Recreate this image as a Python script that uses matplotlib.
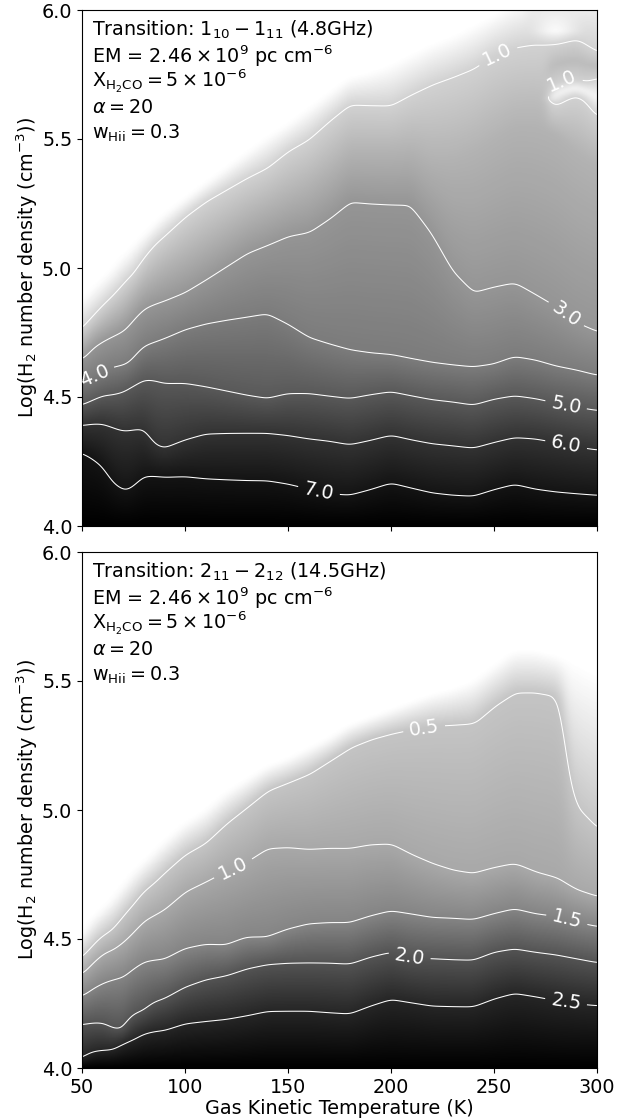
import numpy as np
import matplotlib
matplotlib.use("Agg")
import matplotlib.pyplot as plt
from matplotlib.colors import LinearSegmentedColormap, Normalize

T_GRID = [50,55,60,65,70,73,75,80,85,90,100,110,120,130,140,150,160,170,180,190,200,210,220,230,240,250,260,270,280,290,300]

# ---- top panel: density of each level along T_GRID
TOP_7 = [4.286,4.263,4.231,4.166,4.137,4.14,4.153,4.192,4.194,4.19,4.192,4.183,4.179,4.176,4.175,4.162,4.142,4.124,4.118,4.14,4.166,4.146,4.127,4.118,4.114,4.14,4.161,4.142,4.131,4.124,4.118]
TOP_6 = [4.39,4.396,4.396,4.382,4.368,4.37,4.373,4.376,4.315,4.299,4.332,4.356,4.359,4.36,4.36,4.351,4.338,4.329,4.315,4.332,4.352,4.334,4.319,4.311,4.302,4.324,4.343,4.338,4.324,4.307,4.295]
TOP_5 = [4.468,4.487,4.505,4.509,4.519,4.535,4.544,4.567,4.565,4.553,4.553,4.539,4.522,4.505,4.492,4.512,4.513,4.503,4.494,4.509,4.521,4.505,4.49,4.481,4.469,4.492,4.505,4.494,4.477,4.461,4.448]
TOP_4 = [4.561,4.578,4.6,4.615,4.623,4.632,4.652,4.697,4.712,4.727,4.762,4.784,4.798,4.81,4.823,4.781,4.729,4.703,4.68,4.668,4.661,4.645,4.631,4.622,4.615,4.626,4.655,4.642,4.619,4.604,4.584]
TOP_3 = [4.645,4.69,4.716,4.736,4.755,4.781,4.801,4.842,4.859,4.872,4.904,4.953,5.005,5.057,5.089,5.124,5.139,5.193,5.258,5.251,5.247,5.245,5.135,4.986,4.902,4.924,4.94,4.894,4.846,4.784,4.749]
TOP_2 = [4.70,4.75,4.78,4.81,4.84,4.87,4.89,4.94,4.97,5.0,5.05,5.1,5.15,5.2,5.24,5.28,5.32,5.38,5.45,5.45,5.45,5.46,5.42,5.42,5.45,5.5,5.55,5.55,5.52,5.45,5.4]
TOP_1 = [4.759,4.807,4.852,4.891,4.936,4.962,4.975,5.038,5.089,5.124,5.199,5.258,5.303,5.348,5.387,5.452,5.497,5.569,5.633,5.63,5.628,5.672,5.711,5.74,5.772,5.828,5.854,5.867,5.867,5.886,5.834]
TOP_0 = [4.88,4.92,4.96,5.0,5.05,5.07,5.09,5.13,5.17,5.21,5.27,5.33,5.39,5.45,5.51,5.56,5.62,5.68,5.74,5.76,5.79,5.83,5.87,5.9,5.94,5.98,6.03,6.06,6.08,6.1,6.12]

# island of low values near the upper right of the top panel
ISLAND_T = [276,278,280,285,290,295,300]
ISLAND_LOW = [5.65,5.635,5.63,5.655,5.67,5.65,5.59]
ISLAND_HIGH = [5.65,5.695,5.715,5.725,5.73,5.72,5.735]
SPOT_T = [266,272,276,280,284,288,294]
SPOT_V = [0.75,0.45,0.2,0.05,0.2,0.45,0.75]

# ---- bottom panel
BOT_25 = [4.035,4.061,4.067,4.069,4.093,4.104,4.109,4.132,4.141,4.145,4.171,4.18,4.188,4.202,4.219,4.22,4.22,4.214,4.209,4.24,4.266,4.253,4.24,4.238,4.237,4.268,4.29,4.277,4.262,4.249,4.242]
BOT_20 = [4.168,4.174,4.174,4.152,4.148,4.19,4.207,4.222,4.255,4.268,4.313,4.342,4.358,4.385,4.402,4.407,4.408,4.407,4.403,4.43,4.449,4.426,4.424,4.42,4.418,4.449,4.462,4.449,4.439,4.424,4.409]
BOT_15 = [4.278,4.307,4.329,4.343,4.352,4.372,4.385,4.411,4.418,4.421,4.462,4.478,4.475,4.505,4.505,4.536,4.557,4.562,4.562,4.588,4.608,4.596,4.583,4.58,4.575,4.598,4.617,4.598,4.588,4.566,4.549]
BOT_10 = [4.363,4.407,4.443,4.459,4.488,4.51,4.527,4.57,4.592,4.614,4.683,4.722,4.764,4.799,4.851,4.855,4.847,4.851,4.85,4.864,4.867,4.825,4.79,4.764,4.751,4.773,4.789,4.756,4.734,4.689,4.663]
BOT_05_T = [50,55,60,65,70,73,75,80,85,90,100,110,120,130,140,150,160,170,180,190,200,210,220,230,240,250,260,270,280,283,285,287,290,295,300]
BOT_05 = [4.424,4.469,4.51,4.534,4.585,4.614,4.631,4.683,4.715,4.754,4.825,4.87,4.946,5.01,5.075,5.107,5.14,5.192,5.244,5.276,5.298,5.315,5.328,5.332,5.337,5.405,5.457,5.458,5.444,5.40,5.23,5.10,5.01,4.97,4.926]
BOT_0 = [4.52,4.58,4.62,4.66,4.71,4.74,4.76,4.8,4.84,4.88,4.95,5.0,5.07,5.12,5.17,5.2,5.24,5.28,5.33,5.36,5.39,5.42,5.45,5.47,5.5,5.56,5.62,5.62,5.6,5.57,5.53]

TOP_GRAY = [(0,1.0),(1,0.82),(2,0.70),(3,0.585),(4,0.485),(5,0.35),(6,0.20),(7,0.08),(8,0.0)]
BOT_GRAY = [(0,1.0),(0.5,0.77),(1.0,0.66),(1.5,0.52),(2.0,0.33),(2.5,0.15),(3.1,0.0)]

TOP_LEVELS = [1,3,4,5,6,7]
BOT_LEVELS = [0.5,1.0,1.5,2.0,2.5]
TOP_LABELS = [(252,5.82),(283,5.72),(283,4.80),(56,4.585),(285,4.47),(285,4.315),(165,4.135)]
BOT_LABELS = [(216,5.32),(123,4.78),(285,4.565),(209,4.43),(285,4.258)]

TOP_TEXT = [r'Transition: $1_{10} - 1_{11}$ (4.8GHz)', r'EM = $2.46 \times 10^{9}$ pc cm$^{-6}$',
            r'$\mathrm{X_{H_2CO}} = 5 \times 10^{-6}$', r'$\alpha = 20$', r'$\mathrm{w_{Hii}} = 0.3$']
BOT_TEXT = [r'Transition: $2_{11} - 2_{12}$ (14.5GHz)'] + TOP_TEXT[1:]

Tf = np.linspace(50, 300, 626)
Yf = np.linspace(4, 6, 601)


def make_cmap(table):
    vmax = table[-1][0]
    return LinearSegmentedColormap.from_list('g', [(v / vmax, (g, g, g)) for v, g in table]), Normalize(0, vmax)


def blur(Z, s_t, s_y):
    def kern(s):
        n = int(3 * s)
        x = np.arange(-n, n + 1)
        k = np.exp(-0.5 * (x / s) ** 2)
        return k / k.sum(), n
    k, n = kern(s_t)
    Z = np.apply_along_axis(lambda c: np.convolve(np.pad(c, n, mode='edge'), k, mode='valid'), 1, Z)
    k, n = kern(s_y)
    Z = np.apply_along_axis(lambda c: np.convolve(np.pad(c, n, mode='edge'), k, mode='valid'), 0, Z)
    return Z


def field_top():
    cols = [np.interp(Tf, T_GRID, c) for c in (TOP_7, TOP_6, TOP_5, TOP_4, TOP_3, TOP_2, TOP_1, TOP_0)]
    vals = [7, 6, 5, 4, 3, 2, 1, 0]
    Z = np.zeros((Yf.size, Tf.size))
    for j, t in enumerate(Tf):
        ys = [4.0] + [c[j] for c in cols[:-1]]
        vs = [8.0] + vals[:-1]
        if ISLAND_T[0] < t:
            lo = np.interp(t, ISLAND_T, ISLAND_LOW)
            hi = np.interp(t, ISLAND_T, ISLAND_HIGH)
            top = ys.pop(); vs.pop()
            ys += [lo, (lo + hi) / 2, hi, (hi + top) / 2, top]
            vs += [1.0, 0.2, 1.0, 1.7, 1.0]
        if SPOT_T[0] < t < SPOT_T[-1]:
            ys += [5.92, 6.0]
            vs += [float(np.interp(t, SPOT_T, SPOT_V)), 0.45]
        else:
            ys += [cols[-1][j]]
            vs += [0.0]
        ys = np.maximum.accumulate(np.array(ys) + np.arange(len(ys)) * 1e-6)
        Z[:, j] = np.interp(Yf, ys, vs)
    return blur(Z, 5, 2)


def field_bot():
    cols = [np.interp(Tf, T_GRID, c) for c in (BOT_25, BOT_20, BOT_15, BOT_10)]
    cols.append(np.interp(Tf, BOT_05_T, BOT_05))
    cols.append(np.interp(Tf, T_GRID, BOT_0))
    vals = [2.5, 2.0, 1.5, 1.0, 0.5, 0.0]
    Z = np.zeros((Yf.size, Tf.size))
    for j in range(Tf.size):
        ys = [4.0] + [c[j] for c in cols]
        vs = [3.1] + vals
        ys = np.maximum.accumulate(np.array(ys) + np.arange(len(ys)) * 1e-6)
        Z[:, j] = np.interp(Yf, ys, vs)
    return blur(Z, 5, 2)


W, H = 622, 1120
fig = plt.figure(figsize=(W / 100, H / 100), dpi=100)
L, R = 82, 597
ax1 = fig.add_axes([L / W, 1 - 526 / H, (R - L) / W, 516 / H])
ax2 = fig.add_axes([L / W, 1 - 1068 / H, (R - L) / W, 516 / H])

FS = 13.8
for ax, Z, table, levels, labels, text in ((ax1, field_top(), TOP_GRAY, TOP_LEVELS, TOP_LABELS, TOP_TEXT),
                                          (ax2, field_bot(), BOT_GRAY, BOT_LEVELS, BOT_LABELS, BOT_TEXT)):
    cmap, norm = make_cmap(table)
    ax.imshow(Z, origin='lower', extent=(50, 300, 4, 6), aspect='auto', cmap=cmap, norm=norm, interpolation='bilinear')
    cs = ax.contour(Tf, Yf, Z, levels=levels, colors='white', linewidths=0.75)
    ax.clabel(cs, fmt='%.1f', fontsize=FS, colors='white', manual=labels, inline=True, inline_spacing=6)
    ax.set_xlim(50, 300)
    ax.set_ylim(4, 6)
    ax.set_xticks([50, 100, 150, 200, 250, 300])
    ax.set_yticks([4.0, 4.5, 5.0, 5.5, 6.0])
    ax.set_yticklabels(['4.0', '4.5', '5.0', '5.5', '6.0'])
    ax.tick_params(labelsize=FS)
    ax.set_ylabel(r'Log(H$_2$ number density (cm$^{-3}$))', fontsize=FS, labelpad=1)
    for i, s in enumerate(text):
        ax.text(0.02, 0.961 - i * 0.0498, s, transform=ax.transAxes, fontsize=FS, va='center', ha='left', color='black')

ax1.tick_params(labelbottom=False)
ax2.set_xlabel('Gas Kinetic Temperature (K)', fontsize=FS, labelpad=2)
fig.savefig('out.png', dpi=100)
